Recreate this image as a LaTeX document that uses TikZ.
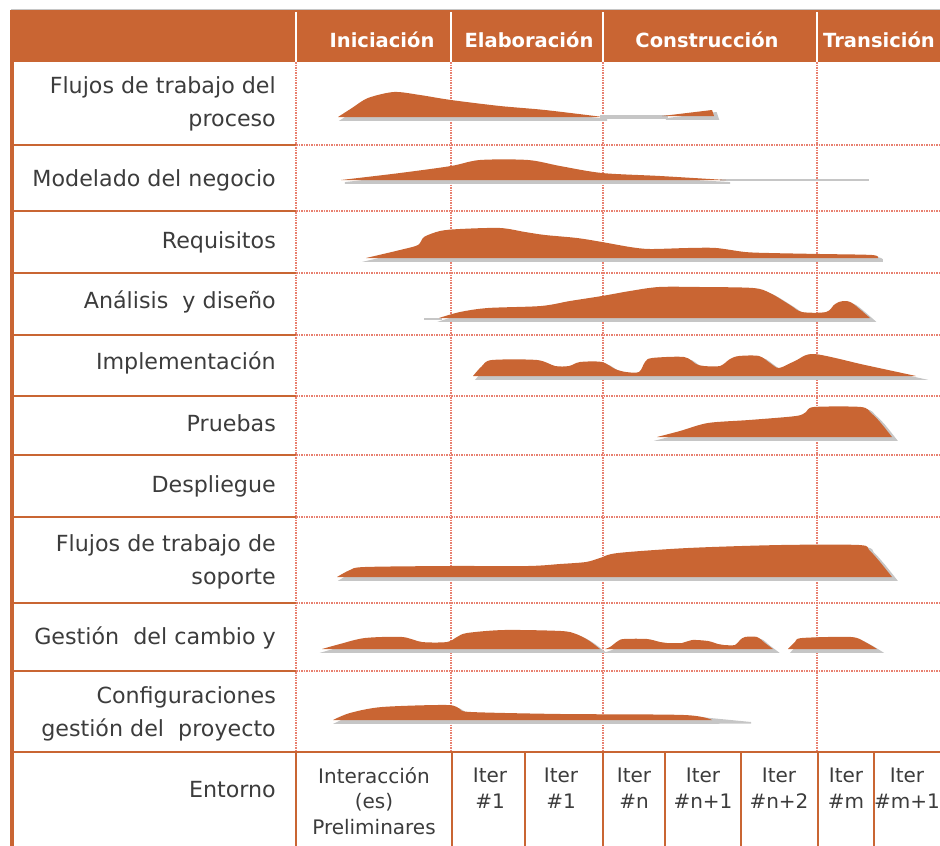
\documentclass[tikz,border=0pt]{standalone}
\usepackage{fontspec}
\setmainfont{DejaVu Sans}
\usepackage{tikz}
\usetikzlibrary{calc}

\definecolor{rupor}{RGB}{201,101,51}
\definecolor{rupgray}{RGB}{198,198,198}
\definecolor{ruptext}{RGB}{60,60,60}
\definecolor{rupdot}{RGB}{232,128,112}

\tikzset{
	humpfill/.style={fill=rupor},
	humpshadow/.style={fill=rupgray,draw=rupgray,line width=1.8pt,shift={(4,3)}},
	gridline/.style={rupor,line width=2pt},
	dotline/.style={rupdot,line width=1.2pt,dash pattern=on 1.5pt off 1pt},
	flowlabel/.style={anchor=east,align=right,text=ruptext,font=\fontsize{22.2}{32.5}\selectfont,inner sep=0pt},
	phase/.style={text=white,font=\bfseries\fontsize{19.5}{24}\selectfont,inner sep=0pt},
	iter/.style={align=center,text=ruptext,font=\fontsize{20}{25.5}\selectfont,inner sep=0pt}
}

% one hump of effort: grey shadow first, orange on top
\newcommand{\hump}[1]{%
	\filldraw[humpshadow] plot[smooth,tension=0.5] coordinates {#1} -- cycle;
	\fill[humpfill] plot[smooth,tension=0.5] coordinates {#1} -- cycle;}

\begin{document}
\begin{tikzpicture}[x=1pt,y=-1pt]
	\useasboundingbox (0,0) rectangle (940,846);
	
	% header band
	\draw[rupgray,line width=0.6pt] (11,9) -- (940,9);
	\fill[rupor] (11,10) rectangle (940,62);
	\foreach \x in {296,451,603,817}
		\draw[white,line width=1.5pt] (\x,12) -- (\x,62);
	
	% grid of the table
	\foreach \x in {296,451,603,817}
		\draw[dotline] (\x,62) -- (\x,752);
	\foreach \y in {145,211,273,335,396,455,517,603,671} {
		\draw[dotline] (296,\y) -- (940,\y);
		\draw[gridline] (12,\y) -- (296,\y);
	}
	\draw[gridline] (12,752) -- (940,752);
	\foreach \x in {296,452,525,603,665,741,818,874}
		\draw[gridline] (\x,752) -- (\x,846);
	\draw[rupor,line width=3.5pt] (12,10) -- (12,846);
	
	% phases
	\node[phase] (ini) at (382,40) {Iniciación};
	\node[phase] (ela) at (529,40) {Elaboración};
	\node[phase] (con) at (707,40) {Construcción};
	\node[phase,anchor=west] (tra) at (823,40) {Transición};
	
	% workflows
	\node[flowlabel] (proc) at (276,104) {Flujos de trabajo del\\proceso};
	\node[flowlabel] (nego) at (276,180) {Modelado del negocio};
	\node[flowlabel] (requ) at (276,242) {Requisitos};
	\node[flowlabel] (anal) at (276,302) {Análisis\ \ y diseño};
	\node[flowlabel] (impl) at (276,363) {Implementación};
	\node[flowlabel] (prue) at (276,423) {Pruebas};
	\node[flowlabel] (desp) at (276,486) {Despliegue};
	\node[flowlabel] (sopo) at (276,562) {Flujos de trabajo de\\soporte};
	\node[flowlabel] (camb) at (276,638) {Gestión\ \ del cambio y};
	\node[flowlabel] (conf) at (276,714) {Configuraciones\\gestión del\ \ proyecto};
	\node[flowlabel] (ento) at (276,790) {Entorno};
	
	% iterations
	\node[iter] (pre) at (374,801) {Interacción\\(es)\\Preliminares};
	\node[iter] (el1) at (490,788) {Iter\\\#1};
	\node[iter] (el2) at (561,788) {Iter\\\#1};
	\node[iter] (cn)  at (634,788) {Iter\\\#n};
	\node[iter] (cn1) at (703,788) {Iter\\\#n+1};
	\node[iter] (cn2) at (779,788) {Iter\\\#n+2};
	\node[iter] (tm)  at (846,788) {Iter\\\#m};
	\node[iter] (tm1) at (907,788) {Iter\\\#m+1};
	
	% humps
	\hump{(338,117) (352,108) (368,98) (394,92) (420,95) (451,100) (500,106) (545,110) (603,117)}
	\fill[rupgray] (600,115) rectangle (668,118.5);
	\filldraw[humpshadow] (662,116) -- (712,110) -- (714,116) -- cycle;
	\fill[humpfill] (662,116) -- (712,110) -- (714,116) -- cycle;
	
	\fill[rupgray] (720,179) rectangle (869,181);
	\hump{(341,180) (400,173) (451,166) (480,160) (528,160) (560,166) (602,173) (660,176) (726,180)}
	
	\hump{(366,258) (400,250) (418,245) (424,237) (440,231) (460,229) (500,228) (525,232) (545,235) (577,238) (602,242) (630,247) (650,249) (688,248) (716,248) (745,252) (769,253) (820,254) (872,255) (878,258)}
	
	\fill[rupgray] (424,318) rectangle (442,320);
	\hump{(439,318) (460,312) (488,308) (541,306) (570,301) (602,296) (630,291) (659,287) (700,287) (753,288) (770,293) (790,305) (802,312) (826,312) (835,304) (843,301) (852,303) (870,318)}
	
	\hump{(473,376) (482,366) (492,360) (537,360) (555,366) (569,366) (580,362) (602,362) (615,369) (626,372) (639,372) (645,362) (652,358) (684,357) (696,364) (704,366) (720,366) (730,359) (739,356) (759,356) (770,363) (779,368) (795,361) (814,354) (865,365) (916,376)}
	
	\hump{(657,437) (680,431) (708,423) (749,420) (796,416) (806,412) (814,407) (861,407) (871,413) (880,422) (892,437)}
	
	\hump{(337,577) (350,570) (365,567) (450,566) (528,566) (560,564) (586,562) (600,558) (618,553) (688,548) (781,545) (859,545) (869,550) (880,562) (892,577)}
	
	\hump{(322,649) (340,644) (365,638) (402,637) (422,642) (447,642) (457,637) (467,633) (504,630) (561,631) (576,634) (588,640) (600,649)}
	\hump{(605,649) (610,647) (618,641) (624,639) (647,639) (660,642) (667,643) (682,643) (692,640) (708,641) (718,644) (724,645) (735,645) (740,640) (745,637) (757,637) (765,643) (773,649)}
	\hump{(788,649) (795,642) (802,638) (851,637) (865,642) (877,649)}
	
	\fill[rupgray] (690,716) -- (751,722) -- (751,723.5) -- (690,723.5) -- cycle;
	\hump{(333,720) (350,713) (382,707) (447,705) (460,709) (471,712) (561,714) (684,715) (712,720)}
\end{tikzpicture}
\end{document}
